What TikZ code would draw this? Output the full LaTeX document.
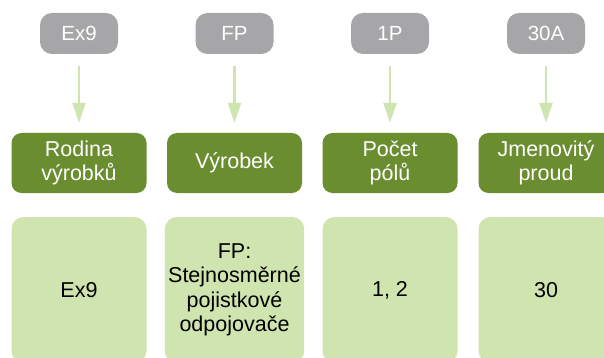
\documentclass[tikz,border=0pt]{standalone}
\usepackage{fontspec}
\setmainfont{Liberation Sans}
\usetikzlibrary{arrows.meta}
\definecolor{codegray}{HTML}{A6A6A8}
\definecolor{fieldgreen}{HTML}{6A8E2F}
\definecolor{valuegreen}{HTML}{D0E4B0}

\begin{document}
\begin{tikzpicture}
      [x=1pt,y=-1pt,
       code/.style={rectangle,rounded corners=12pt,fill=codegray,text=white,minimum width=78pt,minimum height=41pt,font=\fontsize{20.5}{24}\selectfont},
       field/.style={rectangle,rounded corners=10pt,fill=fieldgreen,text=white,minimum width=135pt,minimum height=60pt,align=center,font=\fontsize{21.5}{24}\selectfont},
       value/.style={rectangle,rounded corners=12pt,fill=valuegreen,minimum width=135pt,minimum height=146pt,align=center,font=\fontsize{21.5}{24.5}\selectfont},
       link/.style={line width=2.5pt,valuegreen,shorten <=12pt,shorten >=10pt},
       >={Triangle[length=20pt,width=13pt]}]
      \useasboundingbox (0,0) rectangle (604,358) ;
      \clip (0,0) rectangle (604,358) ;
      \node[code] (codeex) at (79, 33.5) {Ex9} ;
      \node[code] (codefp) at (234.5, 33.5) {FP} ;
      \node[code] (codepol) at (390, 33.5) {1P} ;
      \node[code] (codeamp) at (546, 33.5) {30A} ;
      \node[field] (rodina) at (79, 163) {Rodina\\výrobků} ;
      \node[field] (vyrobek) at (234.5, 163) {Výrobek} ;
      \node[field] (pocet) at (390, 163) {Počet\\pólů} ;
      \node[field] (proud) at (546, 163) {Jmenovitý\\proud} ;
      \node[value] (valex) at (79, 290) {Ex9} ;
      \node[value] (valfp) at (234.5, 290) {FP:\\Stejnosměrné\\pojistkové\\odpojovače} ;
      \node[value] (valpol) at (390, 290) {1, 2} ;
      \node[value] (valamp) at (546, 290) {30} ;
      \draw[->,link] (codeex) to (rodina) ;
      \draw[->,link] (codefp) to (vyrobek) ;
      \draw[->,link] (codepol) to (pocet) ;
      \draw[->,link] (codeamp) to (proud) ;
    \end{tikzpicture}
\end{document}
